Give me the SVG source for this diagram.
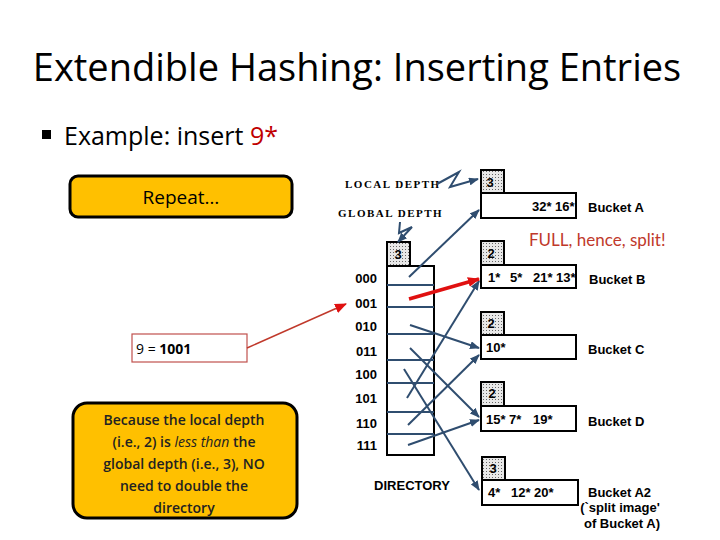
<svg xmlns="http://www.w3.org/2000/svg" width="720" height="540" viewBox="0 0 720 540">
<style>
.t{font-family:"Open Sans","Noto Sans",sans-serif}
.a{font-family:"Liberation Sans",Arial,sans-serif;font-weight:bold;font-size:13px;fill:#000}
.s{font-family:"Liberation Serif",serif;font-weight:bold;font-size:11px;letter-spacing:1.5px}
.box{fill:#fff;stroke:#000;stroke-width:2}
.hd{fill:url(#dots);stroke:#000;stroke-width:2}
.ln{stroke:#2f4d6f;stroke-width:2;fill:none}
.or{fill:#FFC000;stroke:#000;stroke-width:3}
</style>
<defs>
<pattern id="dots" width="3" height="3" patternUnits="userSpaceOnUse"><rect width="3" height="3" fill="#e8e8e8"/><rect width="1" height="1" fill="#666"/></pattern>
<marker id="ab" markerWidth="10" markerHeight="8" refX="9" refY="4" orient="auto" markerUnits="userSpaceOnUse"><path d="M0,0L10,4L0,8z" fill="#2f4d6f"/></marker>
<marker id="ar" markerWidth="12" markerHeight="10" refX="11" refY="5" orient="auto" markerUnits="userSpaceOnUse"><path d="M0,0L12,5L0,10z" fill="#e01010"/></marker>
</defs>
<rect width="720" height="540" fill="#fff"/>
<text class="t" x="357" y="81" font-size="38" text-anchor="middle" fill="#000">Extendible Hashing: Inserting Entries</text>
<rect x="42" y="130" width="9" height="9" fill="#000"/>
<text class="t" x="64" y="145" font-size="25" fill="#000">Example: insert <tspan fill="#c00000">9*</tspan></text>

<g id="repeat"><rect class="or" x="70" y="176" width="222" height="41" rx="8"/><text class="t" x="181" y="204" font-size="19" text-anchor="middle">Repeat…</text></g>
<g id="nine"><rect x="132" y="334" width="115" height="28" fill="#fff" stroke="#c0504d" stroke-width="1.2"/><text class="t" x="136" y="354" font-size="14">9 = <tspan font-weight="bold">1001</tspan></text></g>
<g id="note"><rect class="or" x="73" y="403" width="224" height="115" rx="14"/>
<text class="t" font-size="14" font-weight="600" text-anchor="middle" fill="#222"><tspan x="184" y="425">Because the local depth</tspan><tspan x="184" y="447">(i.e., 2) is <tspan font-style="italic" font-weight="normal">less than</tspan> the</tspan><tspan x="184" y="469">global depth (i.e., 3), NO</tspan><tspan x="184" y="491">need to double the</tspan><tspan x="184" y="513">directory</tspan></text></g>

<text class="s" x="345" y="188">LOCAL DEPTH</text>
<text class="s" x="338" y="217">GLOBAL DEPTH</text>

<g id="directory">
<rect class="hd" x="387" y="242" width="23" height="24"/><text class="a" x="398" y="259" text-anchor="middle">3</text>
<rect class="box" x="387" y="266" width="47" height="189"/>
<g stroke="#2f4d6f" stroke-width="2"><line x1="387" y1="285" x2="434" y2="285"/><line x1="387" y1="307" x2="434" y2="307"/><line x1="387" y1="334" x2="434" y2="334"/><line x1="387" y1="360" x2="434" y2="360"/><line x1="387" y1="383" x2="434" y2="383"/><line x1="387" y1="412" x2="434" y2="412"/><line x1="387" y1="434" x2="434" y2="434"/></g>
<g class="a" text-anchor="end"><text x="377" y="283">000</text><text x="377" y="308">001</text><text x="377" y="331">010</text><text x="377" y="356">011</text><text x="377" y="379">100</text><text x="377" y="403">101</text><text x="377" y="428">110</text><text x="377" y="450">111</text></g>
<text class="a" x="412" y="490" text-anchor="middle">DIRECTORY</text>
</g>

<g id="bucketA"><rect class="hd" x="481" y="170" width="23" height="23"/><text class="a" x="490" y="187" text-anchor="middle">3</text><rect class="box" x="481" y="193" width="95" height="25"/><text class="a" y="211"><tspan x="532">32*</tspan><tspan x="555">16*</tspan></text><text class="a" x="588" y="212">Bucket A</text></g>
<g id="bucketB"><rect class="hd" x="481" y="241" width="23" height="24"/><text class="a" x="491" y="258" text-anchor="middle">2</text><rect class="box" x="481" y="265" width="95" height="23"/><text class="a" y="282"><tspan x="488">1*</tspan><tspan x="510">5*</tspan><tspan x="533">21*</tspan><tspan x="556">13*</tspan></text><text class="a" x="589" y="284">Bucket B</text></g>
<g id="bucketC"><rect class="hd" x="481" y="312" width="23" height="23"/><text class="a" x="491" y="328" text-anchor="middle">2</text><rect class="box" x="481" y="335" width="95" height="24"/><text class="a" x="486" y="352">10*</text><text class="a" x="588" y="354">Bucket C</text></g>
<g id="bucketD"><rect class="hd" x="481" y="382" width="23" height="24"/><text class="a" x="492" y="398" text-anchor="middle">2</text><rect class="box" x="481" y="406" width="95" height="25"/><text class="a" y="424"><tspan x="486">15*</tspan><tspan x="509">7*</tspan><tspan x="533">19*</tspan></text><text class="a" x="588" y="426">Bucket D</text></g>
<g id="bucketA2"><rect class="hd" x="482" y="457" width="23" height="23"/><text class="a" x="493" y="473" text-anchor="middle">3</text><rect class="box" x="482" y="480" width="96" height="25"/><text class="a" y="497"><tspan x="488">4*</tspan><tspan x="511">12*</tspan><tspan x="534">20*</tspan></text><text class="a" x="588" y="497">Bucket A2</text><text class="a" x="620" y="512" text-anchor="middle">(`split image'</text><text class="a" x="622" y="528" text-anchor="middle">of Bucket A)</text></g>

<text x="529" y="246" font-family="Lato,'Noto Sans',sans-serif" font-size="17" fill="#c0392b">FULL, hence, split!</text>

<g id="connectors">
<path class="ln" d="M437,184L459,172L450,187L478,179" marker-end="url(#ab)"/>
<path class="ln" d="M400,222L399,233L412,227L398,242" marker-end="url(#ab)"/>
<line class="ln" x1="409" y1="277" x2="479" y2="210" marker-end="url(#ab)"/>
<line class="ln" x1="410" y1="325" x2="479" y2="348" marker-end="url(#ab)"/>
<line class="ln" x1="410" y1="348" x2="479" y2="417" marker-end="url(#ab)"/>
<line class="ln" x1="404" y1="369" x2="479" y2="490" marker-end="url(#ab)"/>
<line class="ln" x1="407" y1="398" x2="479" y2="281" marker-end="url(#ab)"/>
<line class="ln" x1="408" y1="425" x2="479" y2="355" marker-end="url(#ab)"/>
<line class="ln" x1="408" y1="445" x2="479" y2="420" marker-end="url(#ab)"/>
<line x1="409" y1="299" x2="479" y2="279" stroke="#e01010" stroke-width="3.5" marker-end="url(#ar)"/>
<line x1="247" y1="348" x2="346" y2="304" stroke="#c0392b" stroke-width="1.5" marker-end="url(#ar)"/>
</g>
</svg>
